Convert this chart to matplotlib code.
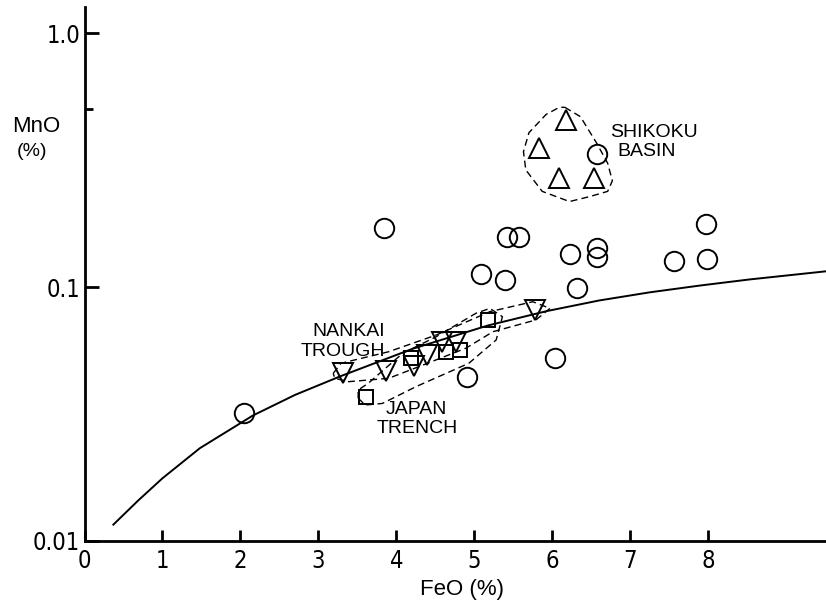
import matplotlib
matplotlib.use("Agg")
import matplotlib.pyplot as plt
from matplotlib.ticker import FixedLocator, NullFormatter

# open circles
circle_feo = [2.05, 3.84, 4.90, 5.08, 5.39, 5.42, 5.57, 6.04, 6.23, 6.32, 6.57, 6.57, 6.57, 7.56, 7.97, 7.98]
circle_mno = [0.032, 0.171, 0.0443, 0.113, 0.1066, 0.158, 0.158, 0.0525, 0.1345, 0.0988, 0.142, 0.131, 0.334, 0.127, 0.1766, 0.1286]

# Shikoku Basin (triangles up)
shikoku_feo = [6.18, 5.83, 6.09, 6.54]
shikoku_mno = [0.454, 0.352, 0.268, 0.268]

# Nankai Trough (triangles down)
nankai_feo = [3.32, 3.87, 4.23, 4.39, 4.58, 4.76, 5.78]
nankai_mno = [0.046, 0.0468, 0.049, 0.054, 0.061, 0.061, 0.081]

# Japan Trench (squares)
japan_feo = [3.61, 4.19, 4.64, 4.81, 5.18]
japan_mno = [0.037, 0.0524, 0.0557, 0.0565, 0.0742]

# trend curve
curve_feo = [0.37, 0.69, 1.0, 1.48, 2.16, 2.7, 3.28, 4.2, 5.17, 5.93, 6.6, 7.25, 7.9, 8.53, 9.51]
curve_mno = [0.0116, 0.01445, 0.01766, 0.0232, 0.0312, 0.0376, 0.0445, 0.057, 0.0705, 0.0804, 0.0885, 0.0953, 0.1014, 0.1071, 0.1153]

# dashed field outlines
shikoku_fx = [6.16, 6.36, 6.57, 6.71, 6.77, 6.71, 6.48, 6.22, 5.87, 5.66, 5.63, 5.70, 5.92, 6.09, 6.16]
shikoku_fy = [0.51, 0.4685, 0.368, 0.307, 0.262, 0.238, 0.227, 0.217, 0.238, 0.289, 0.341, 0.405, 0.478, 0.51, 0.51]
nankai_fx = [3.19, 3.29, 3.90, 4.51, 5.20, 5.75, 5.97, 5.79, 5.24, 4.89, 4.29, 3.90, 3.39, 3.21, 3.19]
nankai_fy = [0.0457, 0.0501, 0.0556, 0.0647, 0.080, 0.0875, 0.0824, 0.0742, 0.0667, 0.0574, 0.0486, 0.0437, 0.0424, 0.0437, 0.0457]
japan_fx = [3.51, 3.60, 3.82, 4.25, 4.93, 5.28, 5.36, 5.20, 5.02, 4.51, 4.08, 3.64, 3.51, 3.51]
japan_fy = [0.0365, 0.0343, 0.0348, 0.0405, 0.0501, 0.0619, 0.0764, 0.0824, 0.0788, 0.0637, 0.0548, 0.0418, 0.0393, 0.0365]

y_ticks = [0.01, 0.1, 1.0]
y_tick_labels = ["0.01", "0.1", "1.0"]
x_ticks = [0, 1, 2, 3, 4, 5, 6, 7, 8]

plain = ["Liberation Sans", "DejaVu Sans"]

fig = plt.figure(figsize=(8.26, 6.07), dpi=100)
ax = fig.add_axes([84.5 / 826, 66 / 607, 1 - 84.5 / 826, 534 / 607])
ax.set_yscale("log")
ax.set_xlim(0, 9.51)
ax.set_ylim(0.01, 1.266)

ax.plot(curve_feo, curve_mno, color="black", lw=1.4)
ax.plot(shikoku_fx, shikoku_fy, color="black", lw=1.0, ls=(0, (5, 3)))
ax.plot(nankai_fx, nankai_fy, color="black", lw=1.0, ls=(0, (5, 3)))
ax.plot(japan_fx, japan_fy, color="black", lw=1.0, ls=(0, (5, 3)))

ax.plot(circle_feo, circle_mno, "o", ms=14, mfc="none", mec="black", mew=1.4)
ax.plot(shikoku_feo, shikoku_mno, "^", ms=15, mfc="none", mec="black", mew=1.4)
ax.plot(nankai_feo, nankai_mno, "v", ms=15, mfc="none", mec="black", mew=1.4)
ax.plot(japan_feo, japan_mno, "s", ms=9.5, mfc="none", mec="black", mew=1.4)

lab = dict(family=plain, fontsize=14, va="center")
ax.text(6.74, 0.405, "SHIKOKU", ha="left", **lab)
ax.text(6.84, 0.341, "BASIN", ha="left", **lab)
ax.text(3.39, 0.0667, "NANKAI", ha="center", **lab)
ax.text(3.32, 0.0556, "TROUGH", ha="center", **lab)
ax.text(4.26, 0.0328, "JAPAN", ha="center", **lab)
ax.text(4.27, 0.0278, "TRENCH", ha="center", **lab)

for s in ["top", "right"]:
    ax.spines[s].set_visible(False)
for s in ["left", "bottom"]:
    ax.spines[s].set_linewidth(2.0)

ax.yaxis.set_major_locator(FixedLocator(y_ticks))
ax.set_yticklabels(y_tick_labels, family="DejaVu Sans", fontstretch="condensed", fontsize=17)
ax.yaxis.set_minor_locator(FixedLocator([0.5]))
ax.yaxis.set_minor_formatter(NullFormatter())
ax.set_xticks(x_ticks)
ax.set_xticklabels([str(t) for t in x_ticks], family="DejaVu Sans", fontstretch="condensed", fontsize=17)
ax.tick_params(axis="y", which="major", direction="in", length=10, width=2, pad=3)
ax.tick_params(axis="y", which="minor", direction="in", length=6, width=2)
ax.tick_params(axis="x", direction="in", length=8, width=2, pad=6)

fig.text(36 / 826, 1 - 126 / 607, "MnO", family=plain, fontsize=16, ha="center", va="center")
fig.text(32 / 826, 1 - 151 / 607, "(%)", family=plain, fontsize=14, ha="center", va="center")
fig.text(462 / 826, 1 - 590 / 607, "FeO (%)", family=plain, fontsize=16, ha="center", va="center")

fig.savefig("out.png", dpi=100)
